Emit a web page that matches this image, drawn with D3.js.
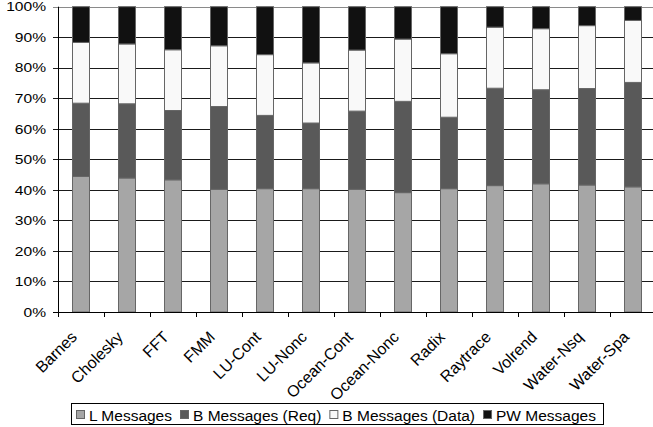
<!DOCTYPE html>
<html><head><meta charset="utf-8">
<script src="https://cdn.jsdelivr.net/npm/d3@7"></script>
<style>
html,body{margin:0;padding:0;background:#fff;}
svg{display:block;font-family:"Liberation Sans",Arial,sans-serif;}
</style></head>
<body>
<svg id="chart" width="653" height="427"></svg>
<script>
const categories = ["Barnes","Cholesky","FFT","FMM","LU-Cont","LU-Nonc","Ocean-Cont","Ocean-Nonc","Radix","Raytrace","Volrend","Water-Nsq","Water-Spa"];
const lMessages    = [44.4, 43.9, 43.3, 40.2, 40.4, 40.4, 40.2, 39.1, 40.4, 41.4, 42.0, 41.6, 41.0];
const bReqMessages = [24.0, 24.3, 22.7, 27.1, 24.0, 21.5, 25.6, 29.9, 23.4, 31.9, 30.8, 31.6, 34.2];
const bDataMessages= [19.9, 19.6, 19.9, 19.9, 19.9, 19.7, 20.0, 20.4, 20.8, 20.0, 20.0, 20.6, 20.3];
const pwMessages   = [11.7, 12.2, 14.1, 12.8, 15.7, 18.4, 14.2, 10.6, 15.4, 6.7, 7.2, 6.2, 4.5];
const seriesNames  = ["L Messages","B Messages (Req)","B Messages (Data)","PW Messages"];
const seriesColors = ["#a6a6a6","#595959","#f9f9f9","#111111"];
const yTicks = [0,10,20,30,40,50,60,70,80,90,100];

const svg = d3.select("#chart");
const x0 = 58, bandW = 46;
const x = d3.scaleBand().domain(categories).range([x0, x0 + bandW*categories.length])
  .paddingInner(28/46).paddingOuter(14/46);
const y = d3.scaleLinear().domain([0,100]).range([312, 6.7]);

// gridlines
svg.append("g").selectAll("line").data(yTicks.filter(d=>d>0)).join("line")
  .attr("x1", x0-5).attr("x2", 653)
  .attr("y1", d=>Math.round(y(d))+0.5).attr("y2", d=>Math.round(y(d))+0.5)
  .attr("stroke", d=> d===100 ? "#8a8a8a" : "#1a1a1a").attr("stroke-width",1);

// stacked data
const rows = categories.map((c,i)=>({cat:c, s0:lMessages[i], s1:bReqMessages[i], s2:bDataMessages[i], s3:pwMessages[i]}));
const keys = ["s0","s1","s2","s3"];
const stack = d3.stack().keys(keys)(rows);
svg.append("g").selectAll("g").data(stack).join("g")
  .attr("fill",(d,i)=>seriesColors[i])
  .selectAll("rect").data(d=>d).join("rect")
  .attr("x", d=>x(d.data.cat)+0.5)
  .attr("width", x.bandwidth()-1)
  .attr("y", d=>y(d[1]))
  .attr("height", d=>y(d[0])-y(d[1]))
  .attr("stroke","#666").attr("stroke-width",1);

// y axis
const yAxis = svg.append("g");
yAxis.append("line").attr("x1",x0+0.5).attr("x2",x0+0.5).attr("y1",y(100)).attr("y2",y(0)+0.5).attr("stroke","#000");
yAxis.selectAll("text").data(yTicks).join("text")
  .attr("transform",d=>`translate(46,${y(d)}) scale(1.2,1)`)
  .attr("dy","0.36em")
  .attr("text-anchor","end").attr("font-size","13px").attr("fill","#000")
  .text(d=>d+"%");
svg.append("line").attr("x1",x0-5).attr("x2",x0).attr("y1",Math.round(y(0))+0.5).attr("y2",Math.round(y(0))+0.5).attr("stroke","#000");

// x axis
const xa = svg.append("g");
xa.append("line").attr("x1",x0).attr("x2",653).attr("y1",Math.round(y(0))+0.5).attr("y2",Math.round(y(0))+0.5).attr("stroke","#000");
xa.selectAll("line.tick").data(d3.range(categories.length+1)).join("line").attr("class","tick")
  .attr("x1",i=>x0+i*bandW+0.5).attr("x2",i=>x0+i*bandW+0.5)
  .attr("y1",y(0)).attr("y2",y(0)+5).attr("stroke","#000");
xa.selectAll("text").data(categories).join("text")
  .attr("transform",d=>`translate(${x(d)+x.bandwidth()/2-3},338) rotate(-45)`)
  .attr("text-anchor","end").attr("font-size","16px").attr("fill","#000")
  .text(d=>d);

// legend
const lg = svg.append("g");
lg.append("rect").attr("x",71.5).attr("y",403.5).attr("width",532).attr("height",21)
  .attr("fill","#fff").attr("stroke","#000");
let lx = 76;
seriesNames.forEach((name,i)=>{
  lg.append("rect").attr("x",lx+0.5).attr("y",410.5).attr("width",8).attr("height",8)
    .attr("fill",seriesColors[i]).attr("stroke","#666");
  const t = lg.append("text").attr("x",lx+13).attr("y",420.5).attr("font-size","15.5px").attr("fill","#000").text(name);
  lx += 13 + t.node().getComputedTextLength() + 8;
});
</script>
</body></html>
